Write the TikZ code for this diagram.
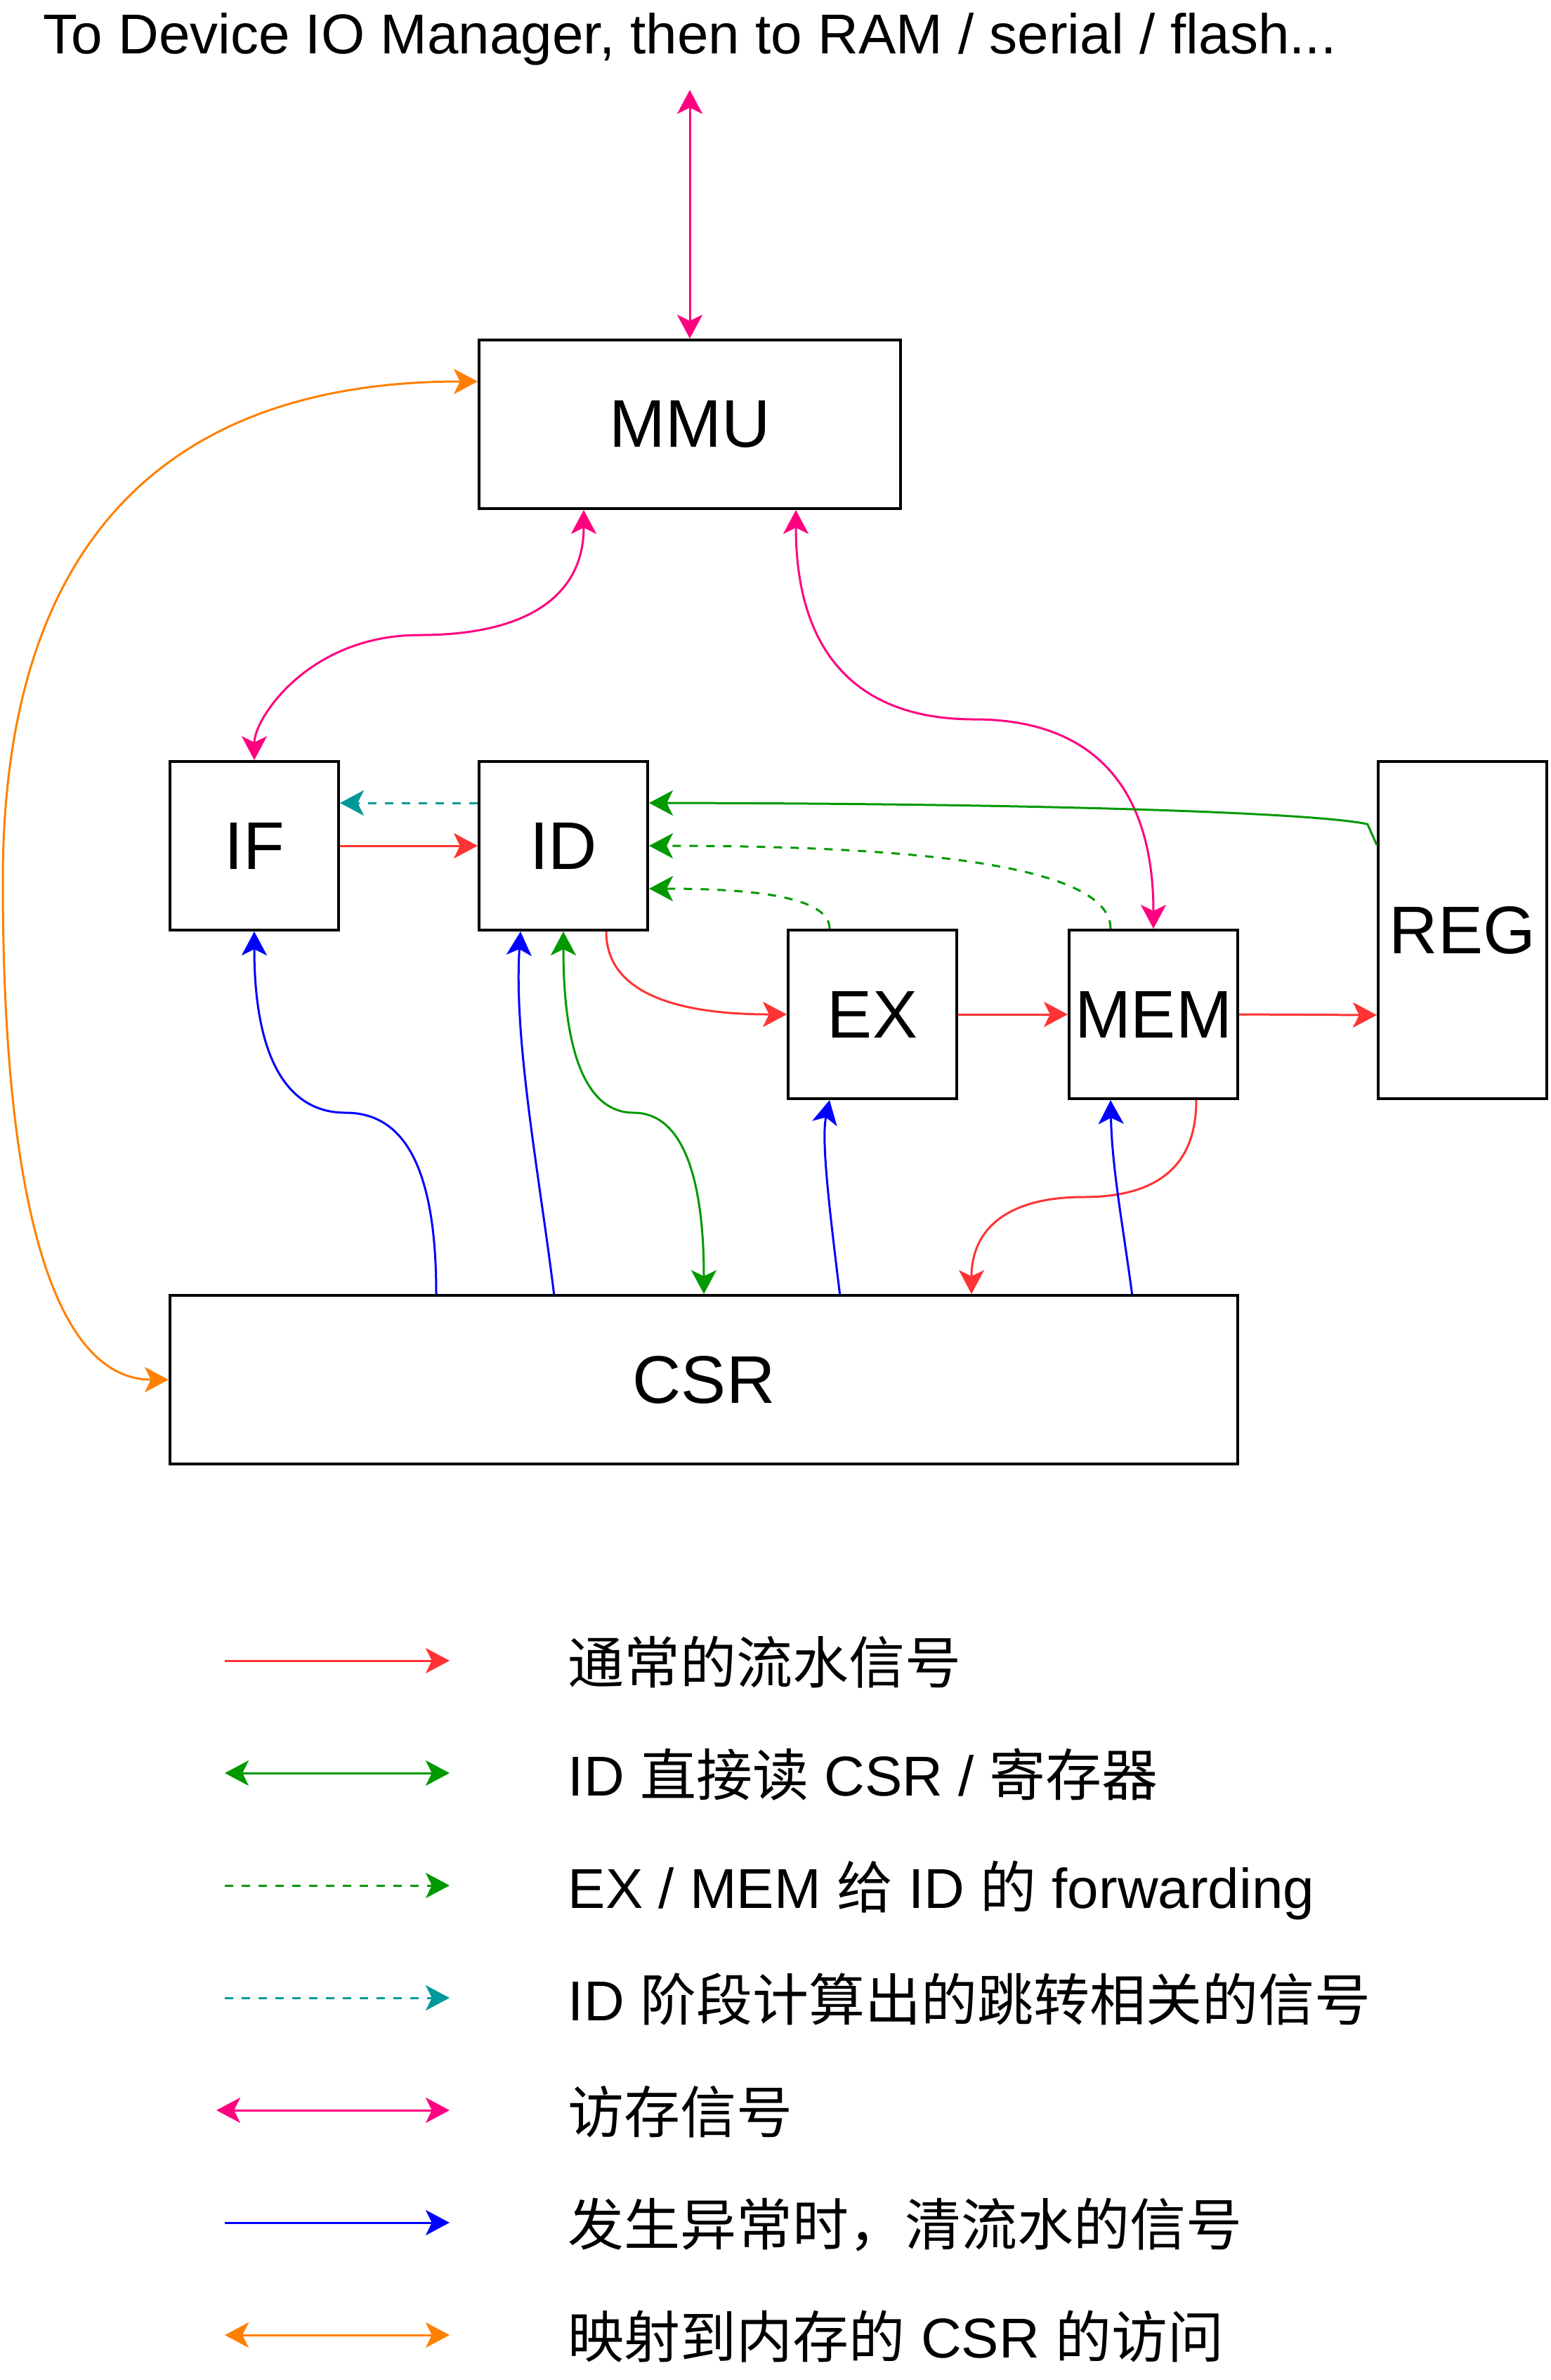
\documentclass[tikz,border=0pt]{standalone}
\usepackage{fontspec}
\setmainfont{Liberation Sans}
\newfontfamily\cjk{Noto Sans CJK SC}
\usepackage{tikz}
\usetikzlibrary{arrows.meta,calc}

\definecolor{sigred}{HTML}{FF3333}
\definecolor{siggreen}{HTML}{009900}
\definecolor{sigteal}{HTML}{009999}
\definecolor{sigpink}{HTML}{FF0080}
\definecolor{sigblue}{HTML}{0000FF}
\definecolor{sigorange}{HTML}{FF8000}

\tikzset{
	>={Stealth[length=8.5pt,width=9pt,inset=2.2pt]},
	stage/.style={draw,line width=1pt,minimum width=60pt,minimum height=60pt,inner sep=0pt,font=\fontsize{24}{28}\selectfont},
	sig/.style={line width=0.75pt},
	pipe/.style={sig,sigred,->},
	direct/.style={sig,siggreen},
	fwd/.style={sig,siggreen,dash pattern=on 3pt off 3pt,->},
	jump/.style={sig,sigteal,dash pattern=on 3pt off 3pt,->},
	memacc/.style={sig,sigpink,<->},
	flush/.style={sig,sigblue,->},
	csrmap/.style={sig,sigorange,<->},
	legend/.style={anchor=base west,inner sep=0pt,font=\fontsize{20}{24}\selectfont}
}

\begin{document}
\begin{tikzpicture}[x=1pt,y=-1pt]
		\useasboundingbox (0,0) rectangle (552,847);

		\node[anchor=base,inner sep=0pt,font=\fontsize{20}{24}\selectfont] (title) at (245.5,19) {To Device IO Manager, then to RAM / serial / flash...};
		\coordinate (ext) at (245.5,32);

		\node[stage,minimum width=150pt] (MMU) at (245.5,151) {MMU};
		\node[stage] (IF) at (90.5,301) {IF};
		\node[stage] (ID) at (200.5,301) {ID};
		\node[stage] (EX) at (310.5,361) {EX};
		\node[stage] (MEM) at (410.5,361) {MEM};
		\node[stage,minimum height=120pt] (REG) at (520.5,331) {REG};
		\node[stage,minimum width=380pt] (CSR) at (250.5,491) {CSR};

		\draw[memacc] (ext) -- (MMU.north);
		\draw[memacc] ($(MMU.south west)!0.25!(MMU.south east)$) .. controls +(0,30) and +(39.2,0) .. (149.25,226) .. controls +(-39.2,0) and +(0,-15) .. (IF.north);
		\draw[memacc] ($(MMU.south west)!0.75!(MMU.south east)$) .. controls +(0,50) and +(-42.5,0) .. (346.75,256) .. controls +(42.5,0) and +(0,-50) .. (MEM.north);

		\draw[pipe] (IF.east) -- (ID.west);
		\draw[pipe] ($(ID.south west)!0.75!(ID.south east)$) .. controls +(0,20) and +(-43.3,0) .. (EX.west);
		\draw[pipe] (EX.east) -- (MEM.west);
		\draw[pipe] (MEM.east) -- ($(REG.north west)!0.75!(REG.south west)$);
		\draw[pipe] ($(MEM.south west)!0.75!(MEM.south east)$) .. controls +(0,23.3) and +(26.7,0) .. (385.5,426) .. controls +(-26.7,0) and +(0,-23.3) .. ($(CSR.north west)!0.75!(CSR.north east)$);

		\draw[jump] ($(ID.north west)!0.25!(ID.south west)$) -- ($(IF.north east)!0.25!(IF.south east)$);
		\draw[fwd] ($(EX.north west)!0.25!(EX.north east)$) .. controls +(0,-10) and +(43.3,0) .. ($(ID.north east)!0.75!(ID.south east)$);
		\draw[fwd] ($(MEM.north west)!0.25!(MEM.north east)$) .. controls +(0,-20) and +(110,0) .. (ID.east);
		\draw[direct,->] ($(REG.north west)!0.25!(REG.south west)$) -- (486.7,293.3) .. controls (470,289.5) and (380,286) .. ($(ID.north east)!0.25!(ID.south east)$);
		\draw[direct,<->] (ID.south) .. controls +(0,43.3) and +(-16.7,0) .. (225.5,396) .. controls +(16.7,0) and +(0,-43.3) .. (CSR.north);

		\draw[flush] ($(CSR.north west)!0.25!(CSR.north east)$) .. controls +(0,-43.3) and +(21.7,0) .. (123,396) .. controls +(-21.7,0) and +(0,43.3) .. (IF.south);
		\draw[flush] ($(CSR.north west)!0.36!(CSR.north east)$) .. controls +(-5,-41) and +(-2.5,39) .. ($(ID.south west)!0.25!(ID.south east)$);
		\draw[flush] ($(CSR.north west)!0.627!(CSR.north east)$) .. controls +(-3.8,-31) and +(-3,14) .. ($(EX.south west)!0.25!(EX.south east)$);
		\draw[flush] ($(CSR.north west)!0.9!(CSR.north east)$) .. controls +(-3.5,-26) and +(0.5,24) .. ($(MEM.south west)!0.25!(MEM.south east)$);

		\draw[csrmap] (CSR.west) .. controls +(-39.7,0) and +(0,118.3) .. (1,313.5) .. controls +(0,-118.3) and +(-113,0) .. ($(MMU.north west)!0.25!(MMU.south west)$);

		\coordinate (k1a) at (80,591);
		\coordinate (k1b) at (160,591);
		\coordinate (k2a) at (80,631);
		\coordinate (k2b) at (160,631);
		\coordinate (k3a) at (80,671);
		\coordinate (k3b) at (160,671);
		\coordinate (k4a) at (80,711);
		\coordinate (k4b) at (160,711);
		\coordinate (k5a) at (77,751);
		\coordinate (k5b) at (160,751);
		\coordinate (k6a) at (80,791);
		\coordinate (k6b) at (160,791);
		\coordinate (k7a) at (80,831);
		\coordinate (k7b) at (160,831);

		\draw[pipe] (k1a) -- (k1b);
		\draw[direct,<->] (k2a) -- (k2b);
		\draw[fwd] (k3a) -- (k3b);
		\draw[jump] (k4a) -- (k4b);
		\draw[memacc] (k5a) -- (k5b);
		\draw[flush] (k6a) -- (k6b);
		\draw[csrmap] (k7a) -- (k7b);

		\node[legend] (t1) at (202,599) {{\cjk 通常的流水信号}};
		\node[legend] (t2) at (202,639) {ID {\cjk 直接读} CSR / {\cjk 寄存器}};
		\node[legend] (t3) at (202,679) {EX / MEM {\cjk 给} ID {\cjk 的} forwarding};
		\node[legend] (t4) at (202,719) {ID {\cjk 阶段计算出的跳转相关的信号}};
		\node[legend] (t5) at (202,759) {{\cjk 访存信号}};
		\node[legend] (t6) at (202,799) {{\cjk 发生异常时，清流水的信号}};
		\node[legend] (t7) at (202,839) {{\cjk 映射到内存的} CSR {\cjk 的访问}};
	\end{tikzpicture}
\end{document}
